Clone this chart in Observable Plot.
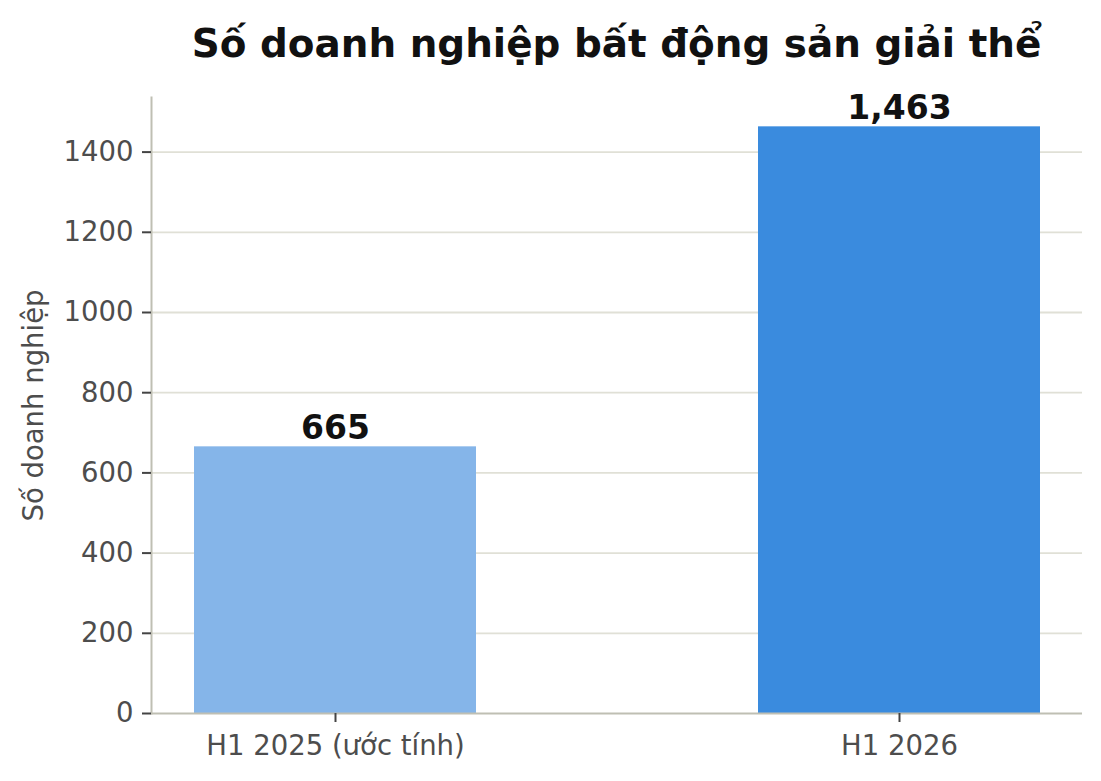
<!DOCTYPE html>
<html>
<head>
<meta charset="utf-8">
<script src="https://cdn.jsdelivr.net/npm/d3@7"></script>
<script src="https://cdn.jsdelivr.net/npm/@observablehq/plot@0.6"></script>
<style>
  html, body { margin: 0; padding: 0; background: #ffffff; }
  #wrap { width: 1101px; height: 781px; font-family: "DejaVu Sans", sans-serif; }
  #title {
    box-sizing: border-box; height: 80px; width: 1101px;
    padding: 24px 19px 0 151px; line-height: 39px;
    font-size: 38.9px; font-weight: bold; color: #111111; text-align: center;
    white-space: nowrap;
  }
</style>
</head>
<body>
<div id="wrap">
  <div id="title">Số doanh nghiệp bất động sản giải thể</div>
  <div id="chart"></div>
</div>
<script>
const titleText = "Số doanh nghiệp bất động sản giải thể";
const yLabel = "Số doanh nghiệp";
const categories = ["H1 2025 (ước tính)", "H1 2026"];
const values = [665, 1463];
const barColors = ["#85b5e9", "#3a8bde"];
const yTicks = [0, 200, 400, 600, 800, 1000, 1200, 1400];

const data = categories.map((c, i) => ({category: c, value: values[i], color: barColors[i]}));
const yMax = d3.max(values) * 1.05;

const chart = Plot.plot({
  width: 1101,
  height: 701,
  marginTop: 17,
  marginBottom: 68,
  marginLeft: 151,
  marginRight: 19,
  style: {fontFamily: "DejaVu Sans, sans-serif", background: "#ffffff", overflow: "visible"},
  x: {type: "band", domain: categories, paddingInner: 0.5, paddingOuter: 0.075, align: 0.5},
  y: {domain: [0, yMax]},
  color: {type: "identity"},
  marks: [
    Plot.gridY(yTicks.filter(d => d > 0), {stroke: "#e0e0d6", strokeOpacity: 1, strokeWidth: 1.8}),
    Plot.barY(data, {x: "category", y: "value", fill: "color"}),
    Plot.text(data, {x: "category", y: "value", text: d => d3.format(",")(d.value),
      lineAnchor: "bottom", dy: -7.5, fontSize: 33, fontWeight: "bold", fill: "#111111"}),
    Plot.frame({anchor: "left", stroke: "#bfbfb3", strokeWidth: 2}),
    Plot.ruleY([0], {stroke: "#bfbfb3", strokeWidth: 2}),
    Plot.axisY({ticks: yTicks, tickFormat: d3.format("d"), tickSize: 9, tickPadding: 9,
      fontSize: 27.5, stroke: "#444444", strokeWidth: 2, color: "#4d4d4d",
      label: yLabel, labelAnchor: "center", labelOffset: 128, labelArrow: "none"}),
    Plot.axisX({tickSize: 9, tickPadding: 13, fontSize: 27.5, stroke: "#444444", strokeWidth: 2,
      color: "#4d4d4d", label: null})
  ]
});
document.getElementById("chart").appendChild(chart);
</script>
</body>
</html>
